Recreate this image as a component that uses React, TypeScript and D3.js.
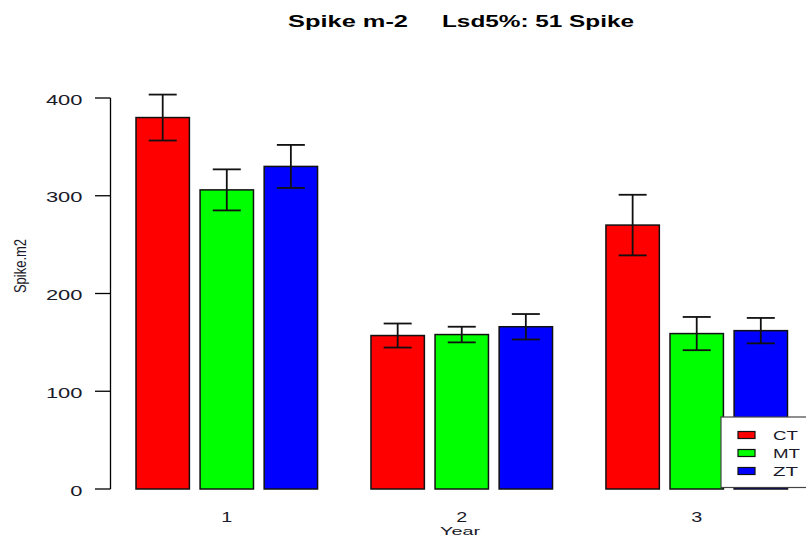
import React from "react";
import * as d3 from "d3";

const years = ["1", "2", "3"];
const series = ["CT", "MT", "ZT"];
const seriesColors = ["#FF0000", "#00FF00", "#0000FF"];
const ctValues = [380, 157, 270];
const mtValues = [306, 158, 159];
const ztValues = [330, 166, 162];
const ctErr = [23.5, 12.3, 31];
const mtErr = [21, 8, 17];
const ztErr = [22, 13, 13];
const yTicks = [0, 100, 200, 300, 400];
const titleLeft = "Spike m-2";
const titleRight = "Lsd5%: 51 Spike";
const yLabel = "Spike.m2";
const xLabel = "Year";

const W = 806;
const H = 542;
const FONT = "'Liberation Sans', Arial, sans-serif";

export default function App() {
  const values = [ctValues, mtValues, ztValues];
  const errs = [ctErr, mtErr, ztErr];

  const y = d3.scaleLinear().domain([0, 400]).range([489, 98]);
  const x0 = d3
    .scaleBand<string>()
    .domain(years)
    .range([136, 787.5])
    .paddingInner(1 / 4.4)
    .paddingOuter(0);
  const x1 = d3
    .scaleBand<string>()
    .domain(series)
    .range([0, x0.bandwidth()])
    .paddingInner(1 - 1 / 1.2)
    .paddingOuter(0);

  const axisX = 110.5;
  const capHalf = 14;

  return (
    <svg
      width={W}
      height={H}
      viewBox={`0 0 ${W} ${H}`}
      style={{ position: "absolute", left: 0, top: 0, display: "block", background: "#fff" }}
      fontFamily={FONT}
    >
      <rect x={0} y={0} width={W} height={H} fill="#fff" />
      {/* Title */}
      <text x={288} y={27} fontSize={17} fontWeight="bold" fill="#000" textLength={120} lengthAdjust="spacingAndGlyphs">
        {titleLeft}
      </text>
      <text x={442} y={27} fontSize={17} fontWeight="bold" fill="#000" textLength={192} lengthAdjust="spacingAndGlyphs">
        {titleRight}
      </text>

      {/* Y axis */}
      <line x1={axisX} x2={axisX} y1={y(400)} y2={y(0)} stroke="#000" strokeWidth={1.3} />
      {yTicks.map((t) => (
        <g key={t}>
          <line x1={95} x2={axisX} y1={y(t)} y2={y(t)} stroke="#000" strokeWidth={1.3} />
          <text
            x={82.5}
            y={y(t) + 6.5}
            fontSize={14}
            fill="#1a1a2a"
            textAnchor="end"
            textLength={String(t).length * 12.2}
            lengthAdjust="spacingAndGlyphs"
          >
            {t}
          </text>
        </g>
      ))}
      <g transform={`translate(25.5, 266) scale(1.2, 1) rotate(-90)`}>
        <text x={0} y={0} fontSize={13} fill="#1a1a2a" textAnchor="middle">
          {yLabel}
        </text>
      </g>

      {/* Bars */}
      {years.map((yr, gi) => (
        <g key={yr} transform={`translate(${x0(yr)},0)`}>
          {series.map((s, si) => {
            const v = values[si][gi];
            const e = errs[si][gi];
            const bx = x1(s)!;
            const cx = bx + x1.bandwidth() / 2;
            return (
              <g key={s}>
                <rect
                  x={bx}
                  y={y(v)}
                  width={x1.bandwidth()}
                  height={y(0) - y(v)}
                  fill={seriesColors[si]}
                  stroke="#111"
                  strokeWidth={1.5}
                />
                <line x1={cx} x2={cx} y1={y(v + e)} y2={y(v - e)} stroke="#111" strokeWidth={1.8} />
                <line x1={cx - capHalf} x2={cx + capHalf} y1={y(v + e)} y2={y(v + e)} stroke="#111" strokeWidth={1.8} />
                <line x1={cx - capHalf} x2={cx + capHalf} y1={y(v - e)} y2={y(v - e)} stroke="#111" strokeWidth={1.8} />
              </g>
            );
          })}
        </g>
      ))}

      {/* X tick labels */}
      {years.map((yr) => (
        <text
          key={yr}
          x={x0(yr)! + x0.bandwidth() / 2}
          y={522}
          fontSize={14}
          fill="#1a1a2a"
          textAnchor="middle"
          textLength={11}
          lengthAdjust="spacingAndGlyphs"
        >
          {yr}
        </text>
      ))}
      <text x={460} y={535} fontSize={11} fill="#1a1a2a" textAnchor="middle" textLength={40} lengthAdjust="spacingAndGlyphs">
        {xLabel}
      </text>

      {/* Legend */}
      <rect x={721} y={417} width={120} height={70.5} fill="#fff" stroke="#444" strokeWidth={1.2} />
      {series.map((s, si) => {
        const cy = 435 + si * 18;
        return (
          <g key={s}>
            <rect x={738} y={cy - 3.5} width={17} height={7} fill={seriesColors[si]} stroke="#111" strokeWidth={1.2} />
            <text x={773} y={cy + 5} fontSize={13} fill="#1a1a2a" textLength={s === "MT" ? 27 : 25} lengthAdjust="spacingAndGlyphs">
              {s}
            </text>
          </g>
        );
      })}
    </svg>
  );
}
